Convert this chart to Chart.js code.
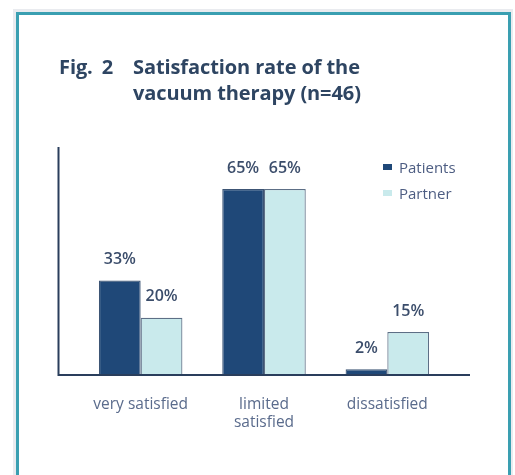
<!DOCTYPE html>
<html>
<head>
<meta charset="utf-8">
<script src="https://cdn.jsdelivr.net/npm/chart.js@4/dist/chart.umd.min.js"></script>
<style>
  html, body { margin: 0; padding: 0; background: #ffffff; width: 515px; height: 475px; overflow: hidden; position: relative; font-family: "Open Sans", "Noto Sans", sans-serif; }
  #shade { position: absolute; left: 13px; top: 9px; width: 500px; height: 480px; background: #e9ebef; }
  #frame { position: absolute; left: 16px; top: 12px; width: 489px; height: 480px; border: 3px solid #3a9fb1; background: #ffffff; }
  #chartWrap { position: absolute; left: 0; top: 0; width: 515px; height: 475px; }
  #title { position: absolute; left: 59px; top: 54px; color: #2e4562; font-size: 20px; font-weight: 700; line-height: 26px; letter-spacing: -0.1px; }
  #title .fig { position: absolute; left: 0; top: 0; white-space: nowrap; word-spacing: 4px; }
  #title .txt { position: absolute; left: 74px; top: 0; white-space: nowrap; }
  #legend { position: absolute; left: 383px; top: 156px; font-size: 15px; color: #4d5d82; }
  #legend .item { position: relative; height: 26px; line-height: 22px; padding-left: 16px; white-space: nowrap; }
  #legend .sw { position: absolute; left: 0; top: 8px; width: 9px; height: 6px; }
</style>
</head>
<body>
<div id="shade"></div>
<div id="frame"></div>
<div id="chartWrap"><canvas id="c" width="515" height="475"></canvas></div>
<div id="title"><span class="fig">Fig. 2</span><span class="txt">Satisfaction rate of the<br>vacuum therapy (n=46)</span></div>
<div id="legend"></div>
<script>
const categories = [["very satisfied"], ["limited", "satisfied"], ["dissatisfied"]];
const seriesNames = ["Patients", "Partner"];
const patients = [33, 65, 2];
const partner = [20, 65, 15];
const yMax = 80;

const colors = ["#1f4878", "#c9eaec"];
const textColor = "#3b4d6b";

const axisLines = {
  id: "axisLines",
  afterDatasetsDraw(chart) {
    const { ctx, chartArea } = chart;
    ctx.save();
    ctx.strokeStyle = "#2a3e5c";
    ctx.lineWidth = 2;
    ctx.beginPath();
    ctx.moveTo(chartArea.left - 20.5, chartArea.top + 1);
    ctx.lineTo(chartArea.left - 20.5, chartArea.bottom);
    ctx.lineTo(chartArea.right + 21, chartArea.bottom);
    ctx.stroke();
    ctx.restore();
  }
};

const valueLabels = {
  id: "valueLabels",
  afterDatasetsDraw(chart) {
    const { ctx } = chart;
    ctx.save();
    ctx.fillStyle = textColor;
    ctx.font = "600 16px 'Open Sans', sans-serif";
    ctx.textAlign = "center";
    ctx.textBaseline = "middle";
    chart.data.datasets.forEach((ds, di) => {
      chart.getDatasetMeta(di).data.forEach((bar, i) => {
        ctx.fillText(ds.data[i] + "%", bar.x, bar.y - 21);
      });
    });
    ctx.restore();
  }
};

const chart = new Chart(document.getElementById("c"), {
  type: "bar",
  data: {
    labels: categories,
    datasets: [
      { label: seriesNames[0], data: patients, backgroundColor: colors[0], borderColor: "#3c5474", borderWidth: 1.2 },
      { label: seriesNames[1], data: partner, backgroundColor: colors[1], borderColor: "#5d6f86", borderWidth: 1.2 }
    ]
  },
  options: {
    responsive: false,
    animation: false,
    categoryPercentage: 0.677,
    barPercentage: 1,
    layout: { padding: { left: 79, right: 66, top: 146, bottom: 22 } },
    plugins: { legend: { display: false }, tooltip: { enabled: false }, title: { display: false } },
    scales: {
      x: {
        grid: { display: false, drawTicks: false },
        border: { display: false },
        ticks: { padding: 21, color: "#5a6b8c", font: { family: "'Open Sans', sans-serif", size: 15.5, lineHeight: 1.16 } }
      },
      y: {
        display: false,
        min: 0,
        max: yMax
      }
    }
  },
  plugins: [axisLines, valueLabels]
});

const legend = document.getElementById("legend");
seriesNames.forEach((n, i) => {
  const d = document.createElement("div");
  d.className = "item";
  d.innerHTML = '<span class="sw" style="background:' + colors[i] + '"></span>' + n;
  legend.appendChild(d);
});
</script>
</body>
</html>
